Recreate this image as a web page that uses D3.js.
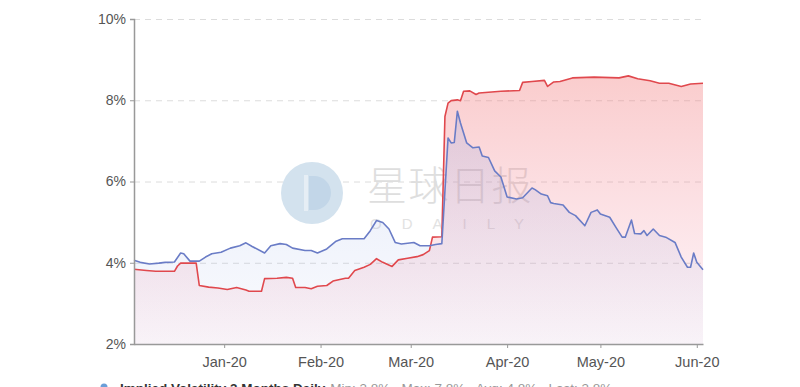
<!DOCTYPE html>
<html>
<head>
<meta charset="utf-8">
<script src="https://cdn.jsdelivr.net/npm/d3@7"></script>
<style>
  html, body { margin: 0; padding: 0; background: #fff; }
  svg { display: block; font-family: "Liberation Sans", Arial, sans-serif; }
</style>
</head>
<body>
<svg id="chart" width="800" height="387"></svg>
<script>
// ---- data ----
const blueDates = ["2019-12-03","2019-12-05","2019-12-08","2019-12-11","2019-12-13","2019-12-16","2019-12-18","2019-12-19","2019-12-21","2019-12-24","2019-12-26","2019-12-28","2019-12-31",
  "2020-01-03","2020-01-06","2020-01-08","2020-01-10","2020-01-14","2020-01-16","2020-01-19","2020-01-21","2020-01-23","2020-01-27","2020-01-29","2020-01-31",
  "2020-02-03","2020-02-06","2020-02-08","2020-02-11","2020-02-15","2020-02-17","2020-02-19","2020-02-21","2020-02-23","2020-02-25","2020-02-27",
  "2020-03-02","2020-03-04","2020-03-07","2020-03-09","2020-03-11","2020-03-13","2020-03-14","2020-03-15","2020-03-16","2020-03-17","2020-03-19","2020-03-21","2020-03-23","2020-03-24","2020-03-26","2020-03-28","2020-03-30",
  "2020-04-01","2020-04-04","2020-04-06","2020-04-09","2020-04-10","2020-04-12","2020-04-14","2020-04-15","2020-04-16","2020-04-19","2020-04-21","2020-04-23","2020-04-26","2020-04-28","2020-04-30",
  "2020-05-01","2020-05-04","2020-05-06","2020-05-08","2020-05-09","2020-05-11","2020-05-12","2020-05-14","2020-05-15","2020-05-16","2020-05-18","2020-05-20","2020-05-22","2020-05-25","2020-05-27","2020-05-29","2020-05-30","2020-05-31",
  "2020-06-01","2020-06-03"];
const blueValues = [4.06,4.01,3.97,3.99,4.01,4.02,4.24,4.22,4.04,4.04,4.14,4.22,4.26,
  4.36,4.42,4.49,4.40,4.24,4.42,4.47,4.45,4.36,4.30,4.30,4.24,
  4.34,4.53,4.59,4.59,4.59,4.79,5.04,4.99,4.83,4.50,4.46,
  4.50,4.42,4.42,4.45,4.47,7.07,6.95,6.96,7.73,7.44,6.95,6.83,6.85,6.63,6.59,6.26,6.11,
  5.62,5.57,5.60,5.84,5.80,5.69,5.65,5.48,5.46,5.42,5.24,5.16,4.91,5.24,5.30,
  5.20,5.12,4.87,4.63,4.63,5.05,4.72,4.71,4.79,4.67,4.83,4.67,4.63,4.50,4.14,3.89,3.89,4.24,
  4.01,3.83];

const redDates = ["2019-12-03","2019-12-07","2019-12-10","2019-12-16","2019-12-17","2019-12-18","2019-12-23","2019-12-24","2019-12-27","2019-12-30",
  "2020-01-02","2020-01-05","2020-01-08","2020-01-09","2020-01-13","2020-01-14","2020-01-18","2020-01-21","2020-01-23","2020-01-24","2020-01-27","2020-01-29","2020-01-31",
  "2020-02-03","2020-02-05","2020-02-09","2020-02-10","2020-02-12","2020-02-15","2020-02-17","2020-02-19","2020-02-21","2020-02-24","2020-02-26","2020-02-29",
  "2020-03-03","2020-03-05","2020-03-07","2020-03-08","2020-03-11","2020-03-12","2020-03-13","2020-03-14","2020-03-16","2020-03-17","2020-03-18","2020-03-20","2020-03-22","2020-03-23","2020-03-30",
  "2020-04-05","2020-04-06","2020-04-09","2020-04-13","2020-04-14","2020-04-16","2020-04-18","2020-04-22","2020-04-29",
  "2020-05-07","2020-05-10","2020-05-13","2020-05-17","2020-05-20","2020-05-23","2020-05-27","2020-05-30","2020-06-03"];
const redValues = [3.84,3.81,3.79,3.79,3.92,3.99,3.99,3.44,3.40,3.38,
  3.34,3.39,3.33,3.30,3.30,3.61,3.62,3.64,3.62,3.39,3.39,3.36,3.42,
  3.44,3.55,3.62,3.62,3.81,3.89,3.96,4.10,4.01,3.91,4.07,4.11,
  4.15,4.20,4.30,4.63,4.64,7.60,7.93,7.99,8.01,7.99,8.22,8.23,8.14,8.18,8.22,
  8.24,8.44,8.46,8.49,8.34,8.45,8.46,8.55,8.57,
  8.55,8.60,8.53,8.48,8.42,8.42,8.34,8.40,8.42];

const yTicks = [2, 4, 6, 8, 10];
const xTickDates = ["2020-01-01","2020-02-01","2020-03-01","2020-04-01","2020-05-01","2020-06-01"];
const xTickLabels = ["Jan-20","Feb-20","Mar-20","Apr-20","May-20","Jun-20"];
const legendName = "Implied Volatility 3 Months Daily";
const legendStats = "Min: 3.8%   Max: 7.8%   Avg: 4.8%   Last: 3.8%";

// ---- setup ----
const parse = d3.timeParse("%Y-%m-%d");
const blue = blueDates.map((d, i) => ({ date: parse(d), v: blueValues[i] }));
const red = redDates.map((d, i) => ({ date: parse(d), v: redValues[i] }));

const svg = d3.select("#chart");
const pLeft = 134, pRight = 703, pTop = 19, pBottom = 344;

const x = d3.scaleTime().domain([parse("2019-12-03"), parse("2020-06-03")]).range([pLeft, pRight]);
const y = d3.scaleLinear().domain([2, 10]).range([pBottom, pTop]);

const defs = svg.append("defs");
const gRed = defs.append("linearGradient").attr("id", "gRed")
  .attr("gradientUnits", "userSpaceOnUse").attr("x1", 0).attr("x2", 0).attr("y1", 75).attr("y2", pBottom);
gRed.append("stop").attr("offset", 0).attr("stop-color", "#f27a7a").attr("stop-opacity", 0.38);
gRed.append("stop").attr("offset", 1).attr("stop-color", "#f27a9a").attr("stop-opacity", 0.06);
const gBlue = defs.append("linearGradient").attr("id", "gBlue")
  .attr("gradientUnits", "userSpaceOnUse").attr("x1", 0).attr("x2", 0).attr("y1", 100).attr("y2", pBottom);
gBlue.append("stop").attr("offset", 0).attr("stop-color", "#7f9be0").attr("stop-opacity", 0.22);
gBlue.append("stop").attr("offset", 1).attr("stop-color", "#9fb3e8").attr("stop-opacity", 0.06);

// grid
svg.append("g").selectAll("line").data(yTicks.filter(t => t > 2)).join("line")
  .attr("x1", pLeft).attr("x2", pRight)
  .attr("y1", d => y(d) + 0.5).attr("y2", d => y(d) + 0.5)
  .attr("stroke", "#dcdcdc").attr("stroke-width", 1).attr("stroke-dasharray", "6,5");

// watermark
const wm = svg.append("g").attr("class", "watermark");
wm.append("circle").attr("cx", 312).attr("cy", 193).attr("r", 31).attr("fill", "#d3e2ee");
wm.append("path").attr("d", "M309,176 L314,176 A17,17 0 0 1 314,210 L309,210 Z").attr("fill", "#c2d6e8");
wm.append("rect").attr("x", 304).attr("y", 175).attr("width", 4).attr("height", 36).attr("fill", "#e6eef5");
wm.append("text").attr("x", 367).attr("y", 200).attr("font-size", 40)
  .attr("font-family", "'Noto Sans CJK SC', sans-serif").attr("font-weight", 300)
  .attr("fill", "#dedede").attr("letter-spacing", 1.5).text("星球日报");
wm.append("text").attr("x", 370).attr("y", 229).attr("font-size", 15)
  .attr("fill", "#e2e2e2").attr("letter-spacing", 20).text("ODAILY");

// areas
const areaGen = d3.area().x(d => x(d.date)).y0(pBottom).y1(d => y(d.v));
const lineGen = d3.line().x(d => x(d.date)).y(d => y(d.v));

svg.append("path").datum(red).attr("d", areaGen).attr("fill", "url(#gRed)");
svg.append("path").datum(blue).attr("d", areaGen).attr("fill", "url(#gBlue)");
svg.append("path").datum(red).attr("d", lineGen).attr("fill", "none")
  .attr("stroke", "#e0484d").attr("stroke-width", 1.6).attr("stroke-linejoin", "round");
svg.append("path").datum(blue).attr("d", lineGen).attr("fill", "none")
  .attr("stroke", "#6a7cc6").attr("stroke-width", 1.6).attr("stroke-linejoin", "round");

// axes
const yAxis = d3.axisLeft(y).tickValues(yTicks).tickFormat(d => d + "%").tickSize(4).tickPadding(4);
const gy = svg.append("g").attr("transform", `translate(${pLeft},0)`).call(yAxis);
gy.select(".domain").attr("stroke", "#999").attr("stroke-width", 1.5);
gy.selectAll(".tick line").attr("stroke", "#999");
gy.selectAll("text").attr("font-size", 14).attr("fill", "#555").attr("font-family", "'Liberation Sans', Arial, sans-serif");

const xAxis = d3.axisBottom(x).tickValues(xTickDates.map(parse))
  .tickFormat((d, i) => xTickLabels[i]).tickSize(4).tickSizeOuter(0).tickPadding(9);
const gx = svg.append("g").attr("transform", `translate(0,${pBottom})`).call(xAxis);
gx.select(".domain").attr("stroke", "#999").attr("stroke-width", 1.5);
gx.selectAll(".tick line").attr("stroke", "#999");
gx.selectAll("text").attr("font-size", 14.5).attr("fill", "#555").attr("font-family", "'Liberation Sans', Arial, sans-serif");

// legend
const lg = svg.append("g");
lg.append("circle").attr("cx", 104).attr("cy", 387).attr("r", 3.5).attr("fill", "#6a9ed8");
const lt = lg.append("text").attr("x", 120).attr("y", 393).attr("font-size", 13.5);
lt.append("tspan").attr("font-weight", "bold").attr("fill", "#333").text(legendName);
lt.append("tspan").attr("fill", "#999").attr("dx", 5).attr("xml:space", "preserve").text(legendStats);
</script>
</body>
</html>
